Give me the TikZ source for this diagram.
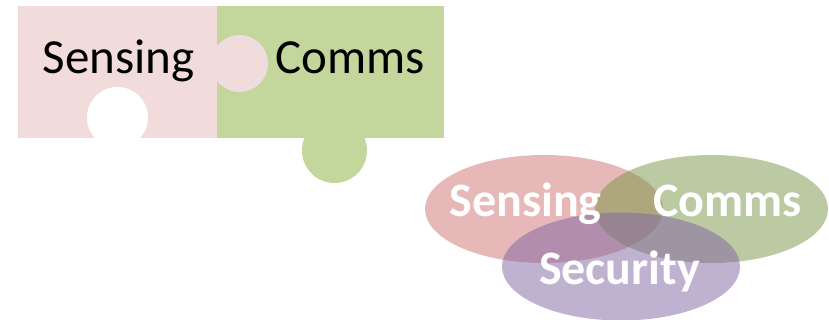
\documentclass[tikz,border=0pt]{standalone}
\usepackage{fontspec}
\setmainfont{Carlito}
\definecolor{pinkpiece}{HTML}{F2DCDB}
\definecolor{greenpiece}{HTML}{C3D69B}
\definecolor{venred}{RGB}{192,80,77}
\definecolor{vengreen}{RGB}{120,150,70}
\definecolor{venpurple}{RGB}{128,100,162}
\tikzset{
  bigtext/.style={font=\fontsize{49}{55}\selectfont, anchor=base, inner sep=0pt},
  piecetext/.style={bigtext, text=black},
  venntext/.style={bigtext, text=white, font=\fontsize{48}{55}\selectfont\bfseries},
}
\begin{document}
\begin{tikzpicture}[x=1pt,y=-1pt]
  \useasboundingbox (0,0) rectangle (829,320);
  % puzzle pieces
  \fill[pinkpiece] (18,6) rectangle (217,138);
  \fill[greenpiece] (217,6) rectangle (444,138);
  \fill[pinkpiece] (239.5,63.5) circle[radius=28.5];
  \fill[white] (117.5,117.5) circle[radius=30.5];
  \fill[greenpiece] (334.5,150.5) circle[radius=32.5];
  \node[piecetext] (sensA) at (118.5,74) {Sensing};
  \node[piecetext] (commA) at (350,74) {Comms};
  % three-way overlap
  \fill[venred, opacity=0.4] (544,209) ellipse[x radius=119, y radius=54];
  \fill[vengreen, opacity=0.5] (711.5,209) ellipse[x radius=116.5, y radius=54];
  \fill[venpurple, opacity=0.5] (621,266.5) ellipse[x radius=119, y radius=54];
  \node[venntext] (sensB) at (525.5,217) {Sensing};
  \node[venntext] (commB) at (727.5,217) {Comms};
  \node[venntext] (secB) at (619.5,284) {Security};
\end{tikzpicture}
\end{document}
